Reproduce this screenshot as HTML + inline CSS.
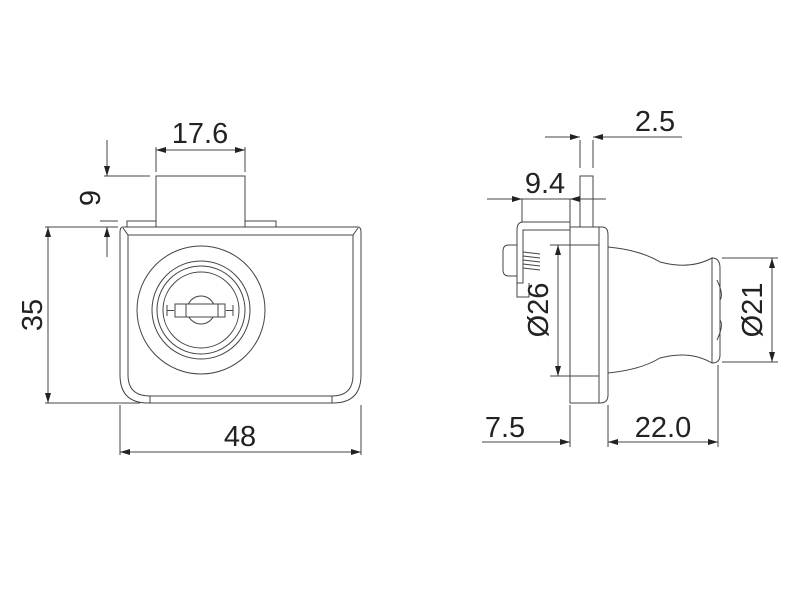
<!DOCTYPE html>
<html><head><style>html,body{margin:0;background:#fff}svg{display:block}</style></head><body>
<svg width="800" height="600" viewBox="0 0 800 600" xmlns="http://www.w3.org/2000/svg">
<defs>
<marker id="a" viewBox="0 0 10 6" refX="10" refY="3" markerWidth="16" markerHeight="6" markerUnits="userSpaceOnUse" orient="auto-start-reverse"><path d="M0,0 L10,3 L0,6z" fill="#222"/></marker>
</defs>
<g fill="none" stroke="#444" stroke-width="1">
<!-- front view -->
<rect x="156" y="176" width="89" height="51"/>
<path d="M127 227V221H156M245 221H276V227"/>
<path d="M123 227H358Q361 227 361 232V375Q361 403 333 403H148Q120 403 120 375V232Q120 227 123 227Z"/>
<path d="M128 235H353M123 228L128 235M358 228L353 235M128 235V375M353 235V375"/>
<path d="M128 375Q128 396 150 396H332Q353 396 353 375M150 396V403M332 396V403"/>
<circle cx="201" cy="310" r="64"/>
<circle cx="201" cy="310" r="49"/>
<circle cx="201" cy="310" r="44"/>
<circle cx="201" cy="310" r="38"/>
<circle cx="201" cy="310" r="14"/>
<rect x="175" y="304" width="50" height="13" fill="#fff"/>
<path d="M186 304V317M218 304V317M167 305V316M167 310.5H174M233 305V316M233 310.5H226"/>
<!-- front dims -->
<path d="M156 147V172M245 147V172"/>
<path d="M156 150H245" marker-start="url(#a)" marker-end="url(#a)"/>
<path d="M107 140V176" marker-end="url(#a)"/><path d="M107 257V227" marker-end="url(#a)"/>
<path d="M104 176H150M100 221H118"/>
<path d="M45 227H118M45 403H140"/>
<path d="M48 227V403" marker-start="url(#a)" marker-end="url(#a)"/>
<path d="M120 405V455M361 405V455"/>
<path d="M120 452H361" marker-start="url(#a)" marker-end="url(#a)"/>
<!-- side view -->
<rect x="580" y="176" width="13" height="51"/>
<path d="M570 227H602Q608 227 608 235V395Q608 403 600 403H570Z"/>
<path d="M599 227V403M570 245H599M570 376H599"/>
<path d="M608 247Q640 250 660 262Q690 270 712 258V363Q690 350 660 358Q640 370 608 373"/>
<path d="M712 258Q720 258 720 268V355Q720 363 712 363"/>
<path d="M717 280Q724 295 720 300M717 340Q724 325 720 320"/>
<path d="M570 222H523Q517 222 517 230V283H523V230H570"/>
<path d="M517 245H509Q503 245 503 251V270Q503 276 509 276H517"/>
<path d="M523 252L540 254M523 256L540 258M523 260L540 262M523 264L540 266M523 268L540 270"/>
<path d="M529 283V297H517V283"/>
<!-- side dims -->
<path d="M580 140V168M593 140V168"/>
<path d="M545 137H580" marker-end="url(#a)"/><path d="M682 137H593" marker-end="url(#a)"/>
<path d="M522 199V222M570 199V227"/>
<path d="M487 199H522" marker-end="url(#a)"/><path d="M606 199H570" marker-end="url(#a)"/>
<path d="M522 199H570"/>
<path d="M550 245H598M550 376H598"/>
<path d="M558 245V376" marker-start="url(#a)" marker-end="url(#a)"/>
<path d="M722 258H778M722 362H778"/>
<path d="M772 258V362" marker-start="url(#a)" marker-end="url(#a)"/>
<path d="M570 405V447M608 405V447M718 365V447"/>
<path d="M482 442H570" marker-end="url(#a)"/>
<path d="M608 442H718" marker-start="url(#a)" marker-end="url(#a)"/>
</g>
<g font-family="Liberation Sans, sans-serif" font-size="29" fill="#222" text-anchor="middle">
<text x="200" y="143">17.6</text>
<text x="240" y="446">48</text>
<text transform="translate(100 198) rotate(-90)">9</text>
<text transform="translate(42 315) rotate(-90)">35</text>
<text x="655" y="131">2.5</text>
<text x="545" y="193">9.4</text>
<text transform="translate(548 310) rotate(-90)">Ø26</text>
<text transform="translate(762 310) rotate(-90)">Ø21</text>
<text x="505" y="437">7.5</text>
<text x="663" y="437">22.0</text>
</g>
</svg>
</body></html>
